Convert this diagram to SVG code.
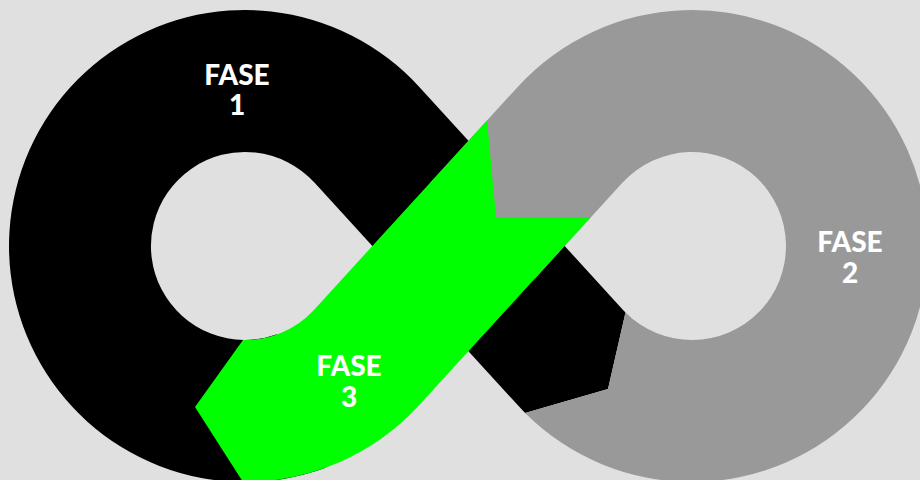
<svg xmlns="http://www.w3.org/2000/svg" width="920" height="480" viewBox="0 0 920 480">
  <style>
    .lbl { font-family: Lato, "Open Sans", "Liberation Sans", sans-serif; font-weight: 900; font-size: 28px; fill: #ffffff; text-anchor: middle; }
  </style>
  <rect x="0" y="0" width="920" height="480" fill="#e0e0e0"/>
  <g id="fase1">
    <path fill="#000000" d="M 325.7 467.8 A 236 236 0 1 1 419.3 86.9 L 622.6 309.4 A 94 94 0 0 0 625.5 312.5 L 608 389 L 525.1 412.9 A 236 236 0 0 1 517.7 405.1 L 314.4 182.6 A 94 94 0 1 0 277.1 334.3 Z"/>
    <text class="lbl"><tspan x="237" y="85">FASE</tspan><tspan x="237" y="115">1</tspan></text>
  </g>
  <g id="fase2">
    <path fill="#999999" d="M 625.5 312.5 L 608 389 L 525.1 412.9 A 236 236 0 1 0 517.7 86.9 L 430 182.9 L 534.8 278.7 L 622.6 182.6 A 94 94 0 1 1 625.5 312.5 Z"/>
    <text class="lbl"><tspan x="850" y="252">FASE</tspan><tspan x="850" y="283">2</tspan></text>
  </g>
  <g id="fase3">
    <path fill="#00ff00" d="M 487 120.5 L 496 217 L 591 217 L 419.3 405.1 A 236 236 0 0 1 243 482 L 195 407 L 243 340 A 94 94 0 0 0 314.4 309.4 Z"/>
    <text class="lbl"><tspan x="349" y="376">FASE</tspan><tspan x="349" y="407">3</tspan></text>
  </g>
</svg>
